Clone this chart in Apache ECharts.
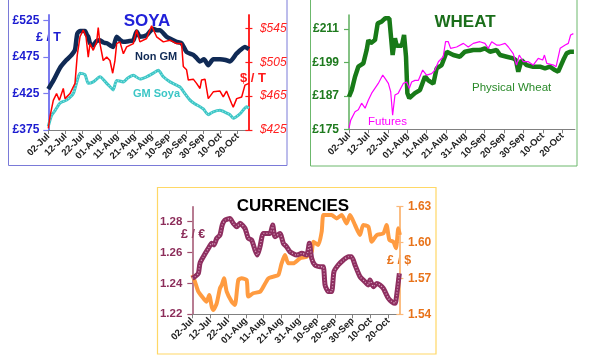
<!DOCTYPE html>
<html><head><meta charset="utf-8">
<script src="https://cdn.jsdelivr.net/npm/echarts@6/dist/echarts.min.js"></script>
<style>html,body{margin:0;padding:0;background:#fff}#c{width:600px;height:363px}</style>
</head><body><div id="c"></div>
<script>
// x = days since 02-Jul
const dateTicks = [0,10,20,30,40,50,60,70,80,90,100,110];
const dateLabels = ['02-Jul','12-Jul','22-Jul','01-Aug','11-Aug','21-Aug','31-Aug','10-Sep','20-Sep','30-Sep','10-Oct','20-Oct'];

// SOYA (GBP/T left, USD/T right)
const soyaLeftTicks = [375,425,475,525];
const soyaRightTicks = [425,465,505,545];
const nonGm = [[0,431],[3,443],[7,461],[10.5,471],[13.5,478],[15.5,485],[16.8,507],[18.4,511],[21.3,511],[22.5,505],[23.2,503],[24.2,494],[26,491],[28,497],[30,498],[32,495],[34,494],[36,491],[37.7,489],[39.7,503],[42,498],[43.6,496],[47,497],[49.4,498],[51.3,510],[53.2,503],[57.1,505],[59,510],[61,514],[63,512],[64.8,512],[68.7,503],[72,499],[74.5,496],[77.4,494],[80.3,482],[84.2,478],[86,474],[88,469],[90.4,472],[92.9,464],[95.8,472],[99.7,472],[103,471],[105.5,469],[109.4,480],[114.2,489],[116.5,486]];
const gmSoya = [[0,380],[1.9,395],[4,402],[6.8,412],[10.6,416],[14.5,425],[16.8,443],[18.4,453],[21.3,451],[23.2,439],[26.1,441],[30,448],[33.9,439],[36,434],[37.7,430],[39.7,443],[43.6,441],[46,446],[49.4,450],[53.2,445],[57.1,448],[61,453],[63.9,457],[66.8,448],[70.7,441],[76.5,434],[78.4,428],[82.3,416],[85,411],[88.1,407],[90,404],[92.9,396],[95.8,400],[99.7,402],[103,399],[105.5,396],[107.4,391],[111.3,397],[115.2,407],[116.5,405]];
const soyaUsd = [[0,427],[1,441],[2.9,460],[4.8,468],[6.4,460],[8.7,474],[9.7,462],[12.6,468],[15.5,480],[16.8,513],[18.4,535],[20.3,543],[21.9,535],[23.2,511],[24.2,527],[26.1,519],[28.1,529],[29,546],[30,527],[31.9,507],[33.9,511],[35.8,507],[37.4,492],[38.7,507],[39.7,527],[41.6,529],[43.6,515],[45.5,523],[49.4,527],[51.3,543],[53.2,529],[57.1,533],[60,548],[62.9,535],[66.8,529],[70.7,531],[74.5,527],[77.4,527],[78.4,500],[80.3,496],[81.3,484],[84.2,485],[86.1,480],[88.1,474],[89,484],[91,485],[92.9,462],[95.8,470],[99.7,471],[101.6,464],[103.5,471],[106.5,456],[107.4,452],[109.4,462],[112.3,464],[114.2,478],[116.5,480]];

// WHEAT (GBP/T)
const wheatTicks = [175,187,199,211];
const physicalWheat = [[0,186.7],[1.4,189.1],[3.1,193.9],[4.8,197.5],[7.4,198.7],[9.1,203.5],[10,207.1],[11.2,206],[13.4,207.1],[14.8,213.1],[16.8,213.7],[18.6,214.9],[20.8,214.9],[21.5,209.5],[22.5,201.7],[23.7,207.7],[24.6,205],[27.2,205],[28.4,208.9],[29.4,201.1],[30.1,188],[31.1,186.2],[34,188],[36.6,189.1],[39.2,194],[40.9,192.6],[43.5,191.4],[45.2,196.9],[47.8,198.1],[50.4,202.9],[53.8,201.7],[57.2,201.1],[59.8,202.9],[64.1,203.5],[67.5,203.5],[70.1,204.1],[72.7,202.9],[76.1,203.5],[77.9,201.7],[81.3,201.1],[84.7,200.5],[86.1,199.9],[87.3,195.7],[89,199.9],[91.6,198.1],[95,197.5],[98.5,197.5],[101.1,196.9],[103.6,197.5],[106.2,196.3],[107.9,195.7],[110.5,199.9],[112.2,202.3],[114,202.9],[116,202.9]];
const wheatFutures = [[0,175.4],[0.9,178.3],[3.1,181.3],[4.8,182],[6.5,184.4],[8.3,182.6],[10,185.5],[11.7,188],[15.1,191.5],[16,191.5],[17.4,194.5],[18.6,193.3],[20.3,191.5],[21.5,188.5],[22.5,180.1],[23.7,187.3],[25.4,188],[28,191.5],[29.7,192],[31.1,189.7],[32.3,192],[34,192.6],[35.8,192.6],[38,196.3],[40,194.5],[42.6,195],[44.3,196.3],[46.1,199.3],[48.6,201.1],[49.8,206.5],[51.2,206.5],[52.4,204.1],[55.5,204.6],[59,205.9],[61.5,204.6],[64.1,205.9],[67.5,206.5],[70.1,205.9],[71.8,204.1],[73.6,206.5],[76.1,205.3],[77.9,205.3],[80.5,205.9],[82.2,204.6],[84.7,202.2],[86.4,198.1],[87.8,201.7],[89.9,199.3],[92.5,199.3],[95,198.1],[97.6,200.5],[98.5,201.1],[99.9,199.9],[100.8,201.7],[102,198.7],[105.5,198.1],[106.8,197.5],[108.9,204.1],[111.5,205.3],[112.3,204.6],[113.1,205.9],[114.3,208.9],[115.7,209.4]];

// CURRENCIES
const eurTicks = [1.22,1.24,1.26,1.28];
const usdTicks = [1.54,1.57,1.60,1.63];
const gbpEur = [[0,1.2433],[1.5,1.2444],[3.4,1.2465],[4.3,1.253],[6.2,1.2573],[9,1.2627],[10.9,1.266],[12.2,1.2649],[13.7,1.2692],[15.5,1.2713],[16.8,1.2778],[18.3,1.281],[21.1,1.2821],[23,1.2789],[24.9,1.2767],[26.8,1.2789],[29.6,1.2756],[31.4,1.2692],[33.3,1.2681],[35.2,1.2616],[36.5,1.2584],[38,1.2638],[39.9,1.2724],[43.6,1.2724],[45.1,1.2778],[46.4,1.2703],[49.2,1.2724],[51.1,1.266],[52.9,1.2638],[54.8,1.2605],[58.6,1.2584],[61.4,1.2595],[64.2,1.2584],[65.7,1.266],[67,1.2562],[68.8,1.2519],[71.7,1.2508],[73.5,1.2508],[74.5,1.239],[76.3,1.2347],[78.2,1.2347],[79.5,1.2476],[81.9,1.2519],[84.8,1.2552],[87.6,1.2573],[89.4,1.2573],[91.3,1.2519],[94.1,1.2444],[96.9,1.2411],[98.8,1.239],[99.7,1.2422],[101.6,1.2379],[103.5,1.24],[105.3,1.239],[107.2,1.2368],[110,1.2304],[111.9,1.2282],[113.8,1.2271],[114.7,1.2325],[116.2,1.2465]];
const gbpUsd = [[0,1.5729],[1.5,1.5673],[3.4,1.5589],[6.2,1.5534],[8,1.5506],[9.5,1.5562],[10.9,1.5464],[11.8,1.5436],[13.7,1.5492],[15.5,1.5617],[16.5,1.5645],[17.8,1.5701],[19.3,1.5589],[22.1,1.5506],[23.9,1.5478],[25.8,1.5687],[27.7,1.5701],[30.5,1.5687],[31.4,1.5548],[34.2,1.5576],[38,1.5589],[39.9,1.5631],[42.7,1.5701],[45.5,1.5715],[48.3,1.5729],[50.1,1.5826],[52,1.5896],[53.9,1.5826],[56.7,1.5826],[60.4,1.5868],[64.2,1.5882],[67,1.5924],[67.9,1.6007],[70.7,1.5979],[72.6,1.6091],[73.5,1.623],[75.4,1.623],[78.2,1.623],[81,1.6202],[83.8,1.623],[86.6,1.616],[88.5,1.623],[91.3,1.6147],[94.1,1.6063],[95.9,1.6147],[98.8,1.6133],[100.7,1.6007],[103.5,1.6063],[107.2,1.6077],[109,1.6147],[110.6,1.6021],[112.8,1.6007],[114.3,1.5952],[115.6,1.6119],[116.5,1.6063]];

const FONT = 'Liberation Sans, Arial, sans-serif';
const XMAX = 116.5;

function xAxis(grid) {
  return {
    type: 'value', gridIndex: grid, min: 0, max: XMAX,
    axisLine: { show: true, lineStyle: { color: '#808080', width: 1 } },
    axisTick: { show: true, customValues: dateTicks, length: 4, lineStyle: { color: '#808080' } },
    axisLabel: { customValues: dateTicks, rotate: 45, margin: 5, fontSize: 9.5, fontWeight: 'bold', color: '#222222', fontFamily: FONT,
      formatter: v => dateLabels[dateTicks.indexOf(Math.round(v))] || '' },
    splitLine: { show: false }
  };
}
function yAxis(o) {
  return {
    type: 'value', gridIndex: o.grid, position: o.pos, min: o.min, max: o.max,
    axisLine: { show: true, lineStyle: { color: o.lineColor, width: o.lineWidth || 1.5 } },
    axisTick: { show: true, inside: !!o.inside, customValues: o.ticks, length: o.tickLen || 5, lineStyle: { color: o.lineColor, width: 1.2 } },
    axisLabel: { show: !o.noLabel, customValues: o.ticks, margin: o.margin, color: o.labelColor, fontSize: o.fontSize || 12,
      fontWeight: o.bold === false ? 'normal' : 'bold', fontStyle: o.italic ? 'italic' : 'normal', fontFamily: FONT,
      formatter: o.fmt },
    splitLine: { show: false }
  };
}

const chart = echarts.init(document.getElementById('c'), null, { renderer: 'canvas' });

const option = {
  animation: false,
  backgroundColor: '#ffffff',
  grid: [
    { left: 48.3, top: 15, width: 116.5 * 1.722, height: 115 },
    { left: 349, top: 15, width: 116.5 * 1.939, height: 114.3 },
    { left: 192.3, top: 206.7, width: 116.5 * 1.782, height: 107.6 }
  ],
  xAxis: [xAxis(0), xAxis(1), xAxis(2)],
  yAxis: [
    yAxis({ grid: 0, pos: 'left', min: 375, max: 532.8, ticks: soyaLeftTicks, lineColor: '#7b7bf0', lineWidth: 2, margin: 9, labelColor: '#1c1cd0', fmt: v => '£' + v }),
    yAxis({ grid: 0, pos: 'right', min: 425, max: 560.7, ticks: soyaRightTicks, lineColor: '#ff1a1a', tickLen: 3.5, margin: 11, labelColor: '#ff2020', italic: true, bold: false, fmt: v => '$' + v }),
    yAxis({ grid: 0, pos: 'right', min: 425, max: 560.7, ticks: soyaRightTicks, lineColor: '#ff1a1a', tickLen: 3.5, inside: true, noLabel: true }),
    yAxis({ grid: 1, pos: 'left', min: 175, max: 216.1, ticks: wheatTicks, lineColor: '#5cae5c', margin: 10, labelColor: '#1e7a1e', fmt: v => '£' + v }),
    yAxis({ grid: 2, pos: 'left', min: 1.22, max: 1.2897, ticks: eurTicks, lineColor: '#a0506e', margin: 10, labelColor: '#8c2d5a', fontSize: 11.5, fmt: v => v.toFixed(2) }),
    yAxis({ grid: 2, pos: 'right', min: 1.54, max: 1.63, ticks: usdTicks, lineColor: '#fbb97a', tickLen: 3.5, margin: 8, labelColor: '#e8731a', fontSize: 12, fmt: v => v.toFixed(2) }),
    yAxis({ grid: 2, pos: 'right', min: 1.54, max: 1.63, ticks: usdTicks, lineColor: '#fbb97a', tickLen: 3.5, inside: true, noLabel: true })
  ],
  series: [
    { type: 'line', name: 'Non GM', xAxisIndex: 0, yAxisIndex: 0, data: nonGm, showSymbol: false, smooth: 0.2, lineStyle: { color: '#102a55', width: 4.5 }, z: 3 },
    { type: 'line', name: 'GM Soya', xAxisIndex: 0, yAxisIndex: 0, data: gmSoya, showSymbol: false, smooth: 0.2, lineStyle: { color: '#3cc6c6', width: 3 }, z: 2 },
    { type: 'line', name: 'GM Soya texture', xAxisIndex: 0, yAxisIndex: 0, data: gmSoya, showSymbol: false, smooth: 0.2, lineStyle: { color: '#9fe6e6', width: 1.2, type: [1, 2] }, z: 2 },
    { type: 'line', name: '$ / T', xAxisIndex: 0, yAxisIndex: 1, data: soyaUsd, showSymbol: false, lineStyle: { color: '#ff0000', width: 1.5 }, z: 4 },
    { type: 'line', name: 'Physical Wheat', xAxisIndex: 1, yAxisIndex: 3, data: physicalWheat, showSymbol: false, lineStyle: { color: '#187a18', width: 4.5 }, z: 2 },
    { type: 'line', name: 'Futures', xAxisIndex: 1, yAxisIndex: 3, data: wheatFutures, showSymbol: false, lineStyle: { color: '#ff00ff', width: 1.2 }, z: 3 },
    { type: 'line', name: '£ / $', xAxisIndex: 2, yAxisIndex: 5, data: gbpUsd, showSymbol: false, smooth: 0.2, lineStyle: { color: '#ff9b40', width: 4 }, z: 2 },
    { type: 'line', name: '£ / €', xAxisIndex: 2, yAxisIndex: 4, data: gbpEur, showSymbol: false, smooth: 0.2, lineStyle: { color: '#8e2f60', width: 5 }, z: 3 },
    { type: 'line', name: '£ / € texture', xAxisIndex: 2, yAxisIndex: 4, data: gbpEur, showSymbol: false, smooth: 0.2, lineStyle: { color: '#d9a3c2', width: 1.3, type: [1, 2] }, z: 4 }
  ],
  graphic: [
    { type: 'rect', shape: { x: 8.5, y: -2, width: 278.5, height: 167.5 }, style: { fill: 'none', stroke: '#7a7ad8', lineWidth: 1 }, silent: true },
    { type: 'rect', shape: { x: 310.5, y: -2, width: 266.5, height: 168 }, style: { fill: 'none', stroke: '#6cb86c', lineWidth: 1 }, silent: true },
    { type: 'rect', shape: { x: 157.5, y: 187.5, width: 278.5, height: 166.5 }, style: { fill: 'none', stroke: '#ffd866', lineWidth: 1.2 }, silent: true },
    { type: 'text', style: { text: 'SOYA', x: 147, y: 21, fill: '#2121d9', font: 'bold 17px ' + FONT, textAlign: 'center', textVerticalAlign: 'middle' } },
    { type: 'text', style: { text: '£ / T', x: 36, y: 37.5, fill: '#1c1cd0', font: 'bold 12.5px ' + FONT, textAlign: 'left', textVerticalAlign: 'middle' } },
    { type: 'text', style: { text: 'Non GM', x: 135, y: 57, fill: '#102a55', font: 'bold 11px ' + FONT, textAlign: 'left', textVerticalAlign: 'middle' } },
    { type: 'text', style: { text: 'GM Soya', x: 133, y: 94, fill: '#3cc6c6', font: 'bold 11px ' + FONT, textAlign: 'left', textVerticalAlign: 'middle' } },
    { type: 'text', style: { text: '$ / T', x: 240, y: 78, fill: '#ff1a1a', font: 'bold 13px ' + FONT, textAlign: 'left', textVerticalAlign: 'middle' } },
    { type: 'text', style: { text: 'WHEAT', x: 465, y: 22, fill: '#1a6e1a', font: 'bold 17px ' + FONT, textAlign: 'center', textVerticalAlign: 'middle' } },
    { type: 'text', style: { text: 'Physical Wheat', x: 472, y: 87.5, fill: '#2a8a2a', font: '11.5px ' + FONT, textAlign: 'left', textVerticalAlign: 'middle' } },
    { type: 'text', style: { text: 'Futures', x: 368, y: 122, fill: '#ff00ff', font: '11.5px ' + FONT, textAlign: 'left', textVerticalAlign: 'middle' } },
    { type: 'text', style: { text: 'CURRENCIES', x: 293, y: 206, fill: '#000000', font: 'bold 17px ' + FONT, textAlign: 'center', textVerticalAlign: 'middle' } },
    { type: 'text', style: { text: '£ / €', x: 181, y: 235, fill: '#8c2d5a', font: 'bold 12.5px ' + FONT, textAlign: 'left', textVerticalAlign: 'middle' } },
    { type: 'text', style: { text: '£ / $', x: 387, y: 261, fill: '#e8731a', font: 'bold 12.5px ' + FONT, textAlign: 'left', textVerticalAlign: 'middle' } }
  ]
};
chart.setOption(option);
</script>
</body></html>
